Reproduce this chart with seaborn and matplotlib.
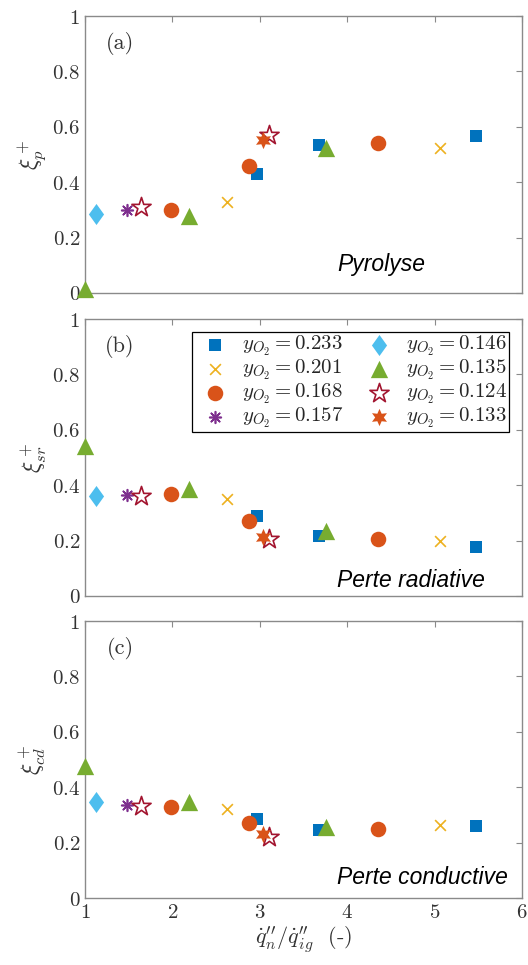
import numpy as np
import pandas as pd
import matplotlib
matplotlib.use("Agg")
import matplotlib.pyplot as plt
from matplotlib.path import Path
from matplotlib.ticker import FuncFormatter
import seaborn as sns

# ----------------------------
# Data
# ----------------------------
group = ["0.135", "0.146", "0.157", "0.124", "0.168", "0.135", "0.201", "0.168",
         "0.233", "0.133", "0.124", "0.233", "0.135", "0.168", "0.201", "0.233"]
q_ratio = [1.00, 1.13, 1.48, 1.64, 1.98, 2.19, 2.62, 2.87,
           2.97, 3.03, 3.10, 3.68, 3.76, 4.35, 5.06, 5.47]
xi_p = [0.013, 0.285, 0.30, 0.31, 0.30, 0.279, 0.33, 0.457,
        0.428, 0.553, 0.571, 0.536, 0.523, 0.543, 0.522, 0.565]
xi_sr = [0.54, 0.362, 0.364, 0.362, 0.367, 0.388, 0.35, 0.271,
         0.29, 0.214, 0.204, 0.218, 0.235, 0.205, 0.199, 0.177]
xi_cd = [0.475, 0.346, 0.337, 0.333, 0.33, 0.345, 0.321, 0.27,
         0.285, 0.232, 0.222, 0.244, 0.258, 0.249, 0.264, 0.261]

legend_order = ["0.233", "0.201", "0.168", "0.157", "0.146", "0.135", "0.124", "0.133"]
panel_tags = ["(a)", "(b)", "(c)"]
panel_names = ["Pyrolyse", "Perte radiative", "Perte conductive"]
y_labels = [r"$\xi_p^+$", r"$\xi_{sr}^+$", r"$\xi_{cd}^+$"]

df = pd.DataFrame({"group": group, "q": q_ratio, "xi_p": xi_p, "xi_sr": xi_sr, "xi_cd": xi_cd})

# ----------------------------
# Styles (MATLAB default colours)
# ----------------------------
tall_diamond = Path([(0, 1), (0.72, 0), (0, -1), (-0.72, 0), (0, 1)],
                    [Path.MOVETO, Path.LINETO, Path.LINETO, Path.LINETO, Path.CLOSEPOLY])
styles = {
    "0.233": dict(marker="s", color="#0072BD", s=85),
    "0.201": dict(marker="x", color="#EDB120", s=60),
    "0.168": dict(marker="o", color="#D95319", s=125),
    "0.157": dict(marker=(8, 2, 0), color="#7E2F8E", s=70),
    "0.146": dict(marker=tall_diamond, color="#4DBEEE", s=230),
    "0.135": dict(marker="^", color="#77AC30", s=155),
    "0.124": dict(marker="*", color="white", edgecolor="#A2142F", s=210),
    "0.133": dict(marker=(6, 1, 0), color="#D95319", s=155),
}

sns.set_style("white")
plt.rcParams["mathtext.fontset"] = "cm"
plt.rcParams["font.family"] = ["DejaVu Serif"]

fig = plt.figure(figsize=(5.28, 9.65), dpi=100)
bottoms = [0.6964, 0.3824, 0.0694]
axes = [fig.add_axes([0.161, b, 0.828, 0.287]) for b in bottoms]

spine_col = "#8a8a8a"
text_col = "#333333"
fmt = FuncFormatter(lambda v, p: "$%g$" % round(v, 2))

for i, (ax, col) in enumerate(zip(axes, ["xi_p", "xi_sr", "xi_cd"])):
    for g in legend_order:
        sub = df[df["group"] == g]
        lw = 1.2 if g in ("0.201", "0.157", "0.124") else 0
        sns.scatterplot(data=sub, x="q", y=col, ax=ax, clip_on=False,
                        label=r"$y_{O_2} = %s$" % g, linewidth=lw, zorder=3, **styles[g])
    ax.set_xlim(1, 6)
    ax.set_ylim(0, 1)
    ax.set_xticks(range(1, 7))
    ax.set_yticks(np.arange(0, 1.01, 0.2))
    ax.yaxis.set_major_formatter(fmt)
    ax.xaxis.set_major_formatter(fmt)
    ax.tick_params(direction="in", length=4, width=0.8, color=spine_col,
                   top=True, right=True, labelsize=15, labelcolor=text_col)
    for sp in ax.spines.values():
        sp.set_color(spine_col)
        sp.set_linewidth(1.0)
    ax.set_ylabel(y_labels[i], fontsize=17, color=text_col, labelpad=2)
    ax.set_xlabel("")
    ax.text(0.08, 0.90, panel_tags[i], transform=ax.transAxes, ha="center", va="center",
            fontsize=16, family="cmr10", color=text_col)
    name_y = [0.08, 0.034, 0.05][i]
    ax.text(0.577, name_y, panel_names[i], transform=ax.transAxes, ha="left", va="baseline",
            fontsize=16.5, style="italic", family="Liberation Sans", color="black")
    if i < 2:
        ax.tick_params(labelbottom=False)
    if ax.get_legend() is not None:
        ax.get_legend().remove()

axes[2].set_xlabel(r"$\dot{q}^{\prime\prime}_n/\dot{q}^{\prime\prime}_{ig}$  (-)",
                   fontsize=16, color=text_col, labelpad=2, family="cmr10")

handles, labels = axes[1].get_legend_handles_labels()
leg = axes[1].legend(handles, labels, ncol=2, loc="upper right",
                     bbox_to_anchor=(0.970, 0.953), borderaxespad=0,
                     fontsize=15, frameon=True, fancybox=False,
                     handletextpad=0.3, columnspacing=0.7, labelspacing=0.0,
                     borderpad=0.1, handlelength=2.0)
leg.get_frame().set_edgecolor("black")
leg.get_frame().set_linewidth(0.9)
leg.get_frame().set_alpha(1)

fig.savefig("out.png", dpi=100)
